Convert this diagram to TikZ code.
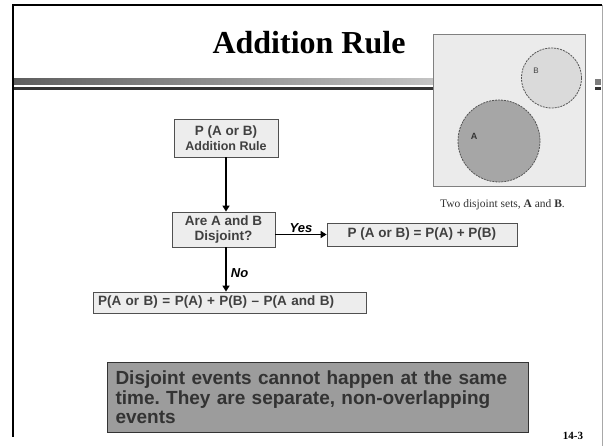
\documentclass[tikz,border=0pt]{standalone}
\usepackage{fontspec}
\setmainfont{Liberation Serif}
\setsansfont{Liberation Sans}
\usetikzlibrary{arrows.meta}
\frenchspacing
\definecolor{boxfill}{HTML}{EDEDED}
\definecolor{boxedge}{HTML}{505050}
\definecolor{boxtext}{HTML}{404040}
\definecolor{notefill}{HTML}{9C9C9C}
\definecolor{notetext}{HTML}{333333}
\definecolor{picfill}{HTML}{EBEBEB}
\definecolor{picedge}{HTML}{808080}
\definecolor{circB}{HTML}{DADADA}
\definecolor{circA}{HTML}{A6A6A6}
\definecolor{circedge}{HTML}{555555}
\definecolor{bardark}{HTML}{5E5E5E}
\definecolor{barlight}{HTML}{C4C4C4}
\definecolor{barline}{HTML}{333333}
\definecolor{frameright}{HTML}{A8A8A8}
\begin{document}
\begin{tikzpicture}[x=1pt,y=-1pt,
  flowbox/.style={draw=boxedge, fill=boxfill, line width=0.8pt, inner sep=0pt,
    font=\sffamily\bfseries\fontsize{13.5}{15.5}\selectfont, text=boxtext, align=center},
  flowarrow/.style={line width=1.8pt, -{Triangle[length=6pt,width=7pt]}},
  edgelabel/.style={font=\sffamily\bfseries\itshape\fontsize{13}{15}\selectfont, text=black, inner sep=1pt},
  setcircle/.style={draw=circedge, line width=0.8pt, dash pattern=on 2pt off 1pt}]
\useasboundingbox (0,0) rectangle (603,446);
% slide frame
\draw[line width=2.5pt] (13,437) -- (13,5) -- (602,5);
\draw[frameright, line width=1pt] (602,5) -- (602,446);
% title bar
\shade[left color=bardark, right color=barlight] (14,79) rectangle (433,85);
\fill[barline] (14,87) rectangle (433,90);
\fill[bardark!80] (595,79) rectangle (601,85);
\fill[barline] (595,87) rectangle (601,90);
% title
\node[anchor=base, font=\bfseries\fontsize{32}{36}\selectfont, inner sep=0pt] (title) at (309,54) {Addition Rule};
% picture
\draw[picedge, fill=picfill, line width=1pt] (433,35) rectangle (585,187);
\draw[setcircle, fill=circB] (551.5,78) circle[radius=30];
\draw[setcircle, fill=circA] (499,141) circle[radius=41];
\node[font=\sffamily\fontsize{8}{9}\selectfont, text=boxtext] (labB) at (536,71) {B};
\node[font=\sffamily\bfseries\fontsize{9}{10}\selectfont, text=black!80] (labA) at (474,136) {A};
\node[font=\fontsize{11.5}{13}\selectfont, text=black!80] (caption) at (502.5,205) {Two disjoint sets, \textbf{A} and \textbf{B}.};
% flowchart
\node[flowbox, minimum width=104, minimum height=38] (rule) at (226,138) {P (A or B)\\[-1pt]{\fontsize{12.5}{14}\selectfont Addition Rule}};
\node[flowbox, minimum width=103, minimum height=35] (ask) at (223.5,229.5) {Are A and B\\Disjoint?};
\node[flowbox, minimum width=190, minimum height=23] (yes) at (422,234.5) {P (A or B) = P(A) + P(B)};
\node[flowbox, minimum width=273, minimum height=21, text width=263, align=left] (no) at (229.5,302.5) {P(A or B) = P(A) + P(B) -- P(A and B)};
\draw[flowarrow] (rule.south) -- (rule.south |- ask.north);
\draw[flowarrow] (ask.east |- yes.west) -- node[edgelabel, above, pos=0.5] (yeslab) {Yes} (yes.west);
\draw[flowarrow] (rule.south |- ask.south) -- node[edgelabel, right, pos=0.58, xshift=3pt] (nolab) {No} (rule.south |- no.north);
% note
\node[draw=barline, fill=notefill, line width=1pt, anchor=north west, minimum width=421, minimum height=70,
  inner sep=0pt, text width=405, align=left, font=\sffamily\bfseries\fontsize{19}{19.5}\selectfont, text=notetext] (note) at (107,362)
  {Disjoint events cannot happen at the same\\time. They are separate, non-overlapping\\events};
\node[anchor=base, font=\bfseries\fontsize{11}{12}\selectfont, inner sep=0pt] (pagenum) at (573,440) {14-3};
\end{tikzpicture}
\end{document}
